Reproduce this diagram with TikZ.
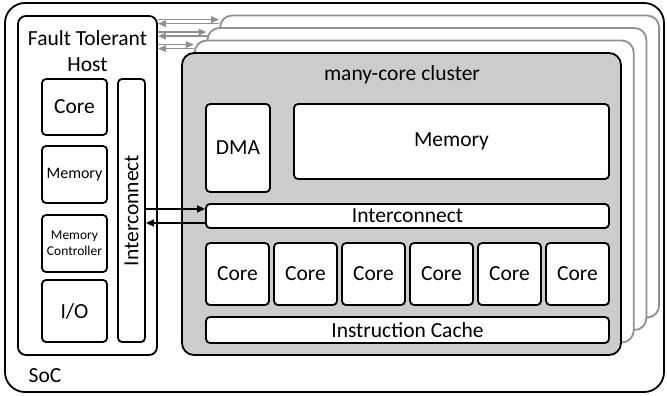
\documentclass[tikz,border=0pt]{standalone}
\usepackage{fontspec}
\setmainfont{Carlito}
\usetikzlibrary{arrows.meta,calc}
\definecolor{clfill}{HTML}{CCCCCC}
\definecolor{clline}{HTML}{909090}
\tikzset{
  blk/.style={rectangle,rounded corners=4pt,draw=black,line width=1.8pt,
              fill=white,inner sep=0pt,align=center,
              font=\fontsize{21.5}{24}\selectfont},
  small/.style={blk,font=\fontsize{16}{18}\selectfont},
  tiny/.style={blk,font=\fontsize{13.5}{16}\selectfont},
  frame/.style={rectangle,draw=black,line width=1.8pt,fill=white,inner sep=0pt},
  copybox/.style={rectangle,rounded corners=12pt,draw=clline,line width=1.8pt,
                  fill=white,minimum width=439,minimum height=302,inner sep=0pt},
  lbl/.style={inner sep=0pt,align=center,font=\fontsize{21.5}{26}\selectfont},
  link/.style={-{Triangle[length=8pt,width=7pt]},line width=1.5pt,draw=black},
  glink/.style={-{Triangle[length=8pt,width=6.5pt]},line width=1.7pt,draw=clline,
                fill=clline},
}
\begin{document}
\begin{tikzpicture}[x={(1pt,0)},y={(0,-1pt)}]
  \useasboundingbox (0,0) rectangle (667,396);
  % SoC frame
  \node[frame,rounded corners=20pt,minimum width=659,minimum height=389] (soc) at (334.5,197.5) {};
  \node[lbl] (soclbl) at (45,376) {SoC};

  % host
  \node[frame,rounded corners=8pt,minimum width=139,minimum height=339] (host) at (87.5,185.5) {};
  \node[lbl] (hostlbl) at (87.5,51) {Fault Tolerant\\Host};
  \node[blk,minimum width=65,minimum height=56] (hcore) at (74.5,107) {Core};
  \node[small,minimum width=65,minimum height=57] (hmem) at (74.5,174.5) {Memory};
  \node[tiny,minimum width=65,minimum height=57] (hmc) at (74.5,243.5) {Memory\\Controller};
  \node[blk,minimum width=65,minimum height=62] (hio) at (74.5,311) {I/O};
  \node[blk,rotate=90,minimum width=263,minimum height=27] (hic) at (131.5,210.5) {Interconnect};

  % stacked clusters
  \foreach \k in {3,2,1}
    \node[copybox] (copy\k) at ($(401.5,204)+(12.7*\k,-12.5*\k)$) {};
  \node[copybox,draw=black,fill=clfill] (cluster) at (401.5,204) {};
  \node[lbl] (cllbl) at (402,75) {many-core cluster};

  % cluster contents
  \node[blk,minimum width=64,minimum height=88] (dma) at (238,148) {DMA};
  \node[blk,minimum width=315,minimum height=75] (cmem) at (451.5,141.5) {Memory};
  \node[blk,minimum width=403,minimum height=24] (cic) at (407.5,216) {Interconnect};
  \foreach \i in {0,...,5}
    \node[blk,minimum width=63,minimum height=62] (core\i) at (237.5+68*\i,274) {Core};
  \node[blk,minimum width=403,minimum height=26] (icache) at (407.5,330) {Instruction Cache};

  % host <-> clusters
  \foreach \k in {1,2,3} {
    \coordinate (gr\k) at ($(copy\k.north west)+(0,5)$);
    \coordinate (gl\k) at ($(copy\k.north west)+(0,9)$);
    \draw[glink] (gr\k -| host.east) -- (gr\k);
    \draw[glink] (gl\k) -- (gl\k -| host.east);
  }
  \coordinate (ir) at ($(cic.west)+(0,-7)$);
  \coordinate (il) at ($(cic.west)+(0,7)$);
  \draw[link] (ir -| hic.south) -- (ir);
  \draw[link] (il) -- (il -| hic.south);
\end{tikzpicture}
\end{document}
